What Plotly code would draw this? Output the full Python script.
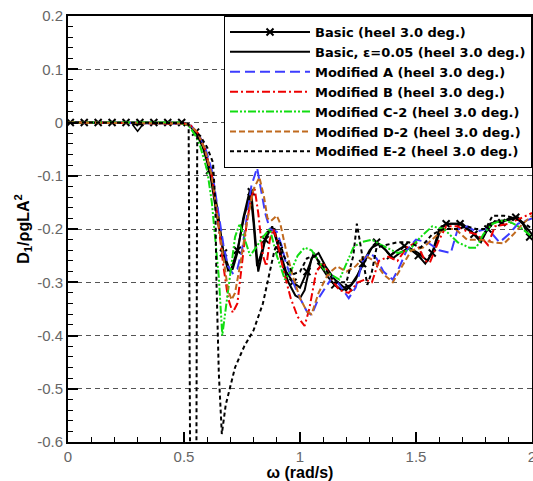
import plotly.graph_objects as go

# ---------------- data ----------------
basic_x = [0.01, 0.04, 0.07, 0.10, 0.13, 0.16, 0.19, 0.22, 0.25, 0.28, 0.31, 0.34, 0.37, 0.40, 0.43, 0.46, 0.49,
           0.52, 0.55, 0.58, 0.61, 0.64, 0.67, 0.70, 0.73, 0.76, 0.79, 0.82, 0.85, 0.88, 0.91, 0.94, 0.97,
           1.00, 1.03, 1.06, 1.09, 1.12, 1.15, 1.18, 1.21, 1.24, 1.27, 1.30, 1.33, 1.36, 1.39, 1.42, 1.45,
           1.48, 1.51, 1.54, 1.57, 1.60, 1.63, 1.66, 1.69, 1.72, 1.75, 1.78, 1.81, 1.84, 1.87, 1.90, 1.93,
           1.96, 1.99]
basic_y = [0, 0, 0, 0, 0, 0, 0, 0, 0, 0, 0, 0, 0, 0, 0, 0, 0,
           -0.005, -0.018, -0.045, -0.09, -0.17, -0.245, -0.28, -0.24, -0.175, -0.13, -0.28, -0.22, -0.195, -0.24, -0.28, -0.30,
           -0.31, -0.28, -0.245, -0.27, -0.29, -0.305, -0.315, -0.31, -0.295, -0.265, -0.24, -0.225, -0.235, -0.25, -0.24, -0.232,
           -0.24, -0.25, -0.265, -0.245, -0.20, -0.19, -0.19, -0.19, -0.20, -0.21, -0.22, -0.20, -0.185, -0.188, -0.18, -0.178,
           -0.19, -0.215]

eps_x = [0.0, 0.50, 0.53, 0.56, 0.59, 0.62, 0.645, 0.67, 0.69, 0.71, 0.73, 0.755, 0.785, 0.80, 0.815, 0.83, 0.86,
         0.89, 0.92, 0.95, 0.98, 1.00, 1.02, 1.05, 1.08, 1.11, 1.15, 1.19, 1.22, 1.25, 1.28, 1.31, 1.34, 1.37,
         1.40, 1.43, 1.47, 1.51, 1.55, 1.58, 1.61, 1.65, 1.70, 1.74, 1.78, 1.82, 1.86, 1.90, 1.94, 1.97, 2.0]
eps_y = [0.0, -0.002, -0.007, -0.022, -0.05, -0.1, -0.165, -0.245, -0.278, -0.275, -0.245, -0.18, -0.125, -0.19, -0.27, -0.25, -0.205,
         -0.2, -0.26, -0.30, -0.325, -0.33, -0.315, -0.255, -0.245, -0.27, -0.295, -0.31, -0.305, -0.285, -0.26, -0.235, -0.228, -0.24,
         -0.255, -0.245, -0.235, -0.245, -0.26, -0.235, -0.195, -0.19, -0.19, -0.205, -0.225, -0.19, -0.185, -0.183, -0.178, -0.195, -0.21]

modA_x = [0.0, 0.50, 0.53, 0.56, 0.59, 0.62, 0.645, 0.67, 0.69, 0.71, 0.73, 0.75, 0.77, 0.79, 0.815, 0.83, 0.85,
          0.87, 0.90, 0.92, 0.94, 0.97, 1.00, 1.03, 1.05, 1.08, 1.11, 1.14, 1.17, 1.21, 1.24, 1.27, 1.30, 1.33,
          1.36, 1.40, 1.43, 1.46, 1.50, 1.55, 1.60, 1.65, 1.68, 1.72, 1.76, 1.80, 1.83, 1.86, 1.90, 1.94, 2.0]
modA_y = [0.0, -0.002, -0.006, -0.02, -0.045, -0.09, -0.16, -0.23, -0.27, -0.283, -0.275, -0.24, -0.18, -0.12, -0.085, -0.12, -0.17,
          -0.2, -0.205, -0.23, -0.265, -0.30, -0.33, -0.355, -0.362, -0.33, -0.31, -0.29, -0.305, -0.33, -0.31, -0.26, -0.245, -0.255,
          -0.28, -0.295, -0.27, -0.24, -0.22, -0.225, -0.24, -0.245, -0.20, -0.195, -0.205, -0.20, -0.21, -0.225, -0.21, -0.19, -0.18]

modB_x = [0.0, 0.50, 0.53, 0.56, 0.59, 0.62, 0.645, 0.67, 0.69, 0.71, 0.73, 0.75, 0.77, 0.79, 0.805, 0.82, 0.84,
          0.855, 0.87, 0.885, 0.90, 0.93, 0.96, 0.99, 1.02, 1.04, 1.07, 1.10, 1.13, 1.17, 1.21, 1.25, 1.28, 1.31,
          1.34, 1.38, 1.42, 1.46, 1.50, 1.54, 1.56, 1.60, 1.63, 1.68, 1.72, 1.76, 1.79, 1.81, 1.84, 1.90, 1.95, 2.0]
modB_y = [0.0, -0.002, -0.006, -0.02, -0.05, -0.10, -0.18, -0.27, -0.33, -0.357, -0.34, -0.27, -0.19, -0.14, -0.125, -0.17, -0.25,
          -0.27, -0.22, -0.20, -0.22, -0.28, -0.33, -0.365, -0.382, -0.35, -0.28, -0.263, -0.29, -0.315, -0.32, -0.30, -0.295, -0.30,
          -0.26, -0.252, -0.26, -0.235, -0.225, -0.26, -0.263, -0.22, -0.195, -0.195, -0.205, -0.21, -0.22, -0.23, -0.195, -0.19, -0.18, -0.17]

modC_x = [0.0, 0.48, 0.52, 0.55, 0.57, 0.60, 0.62, 0.64, 0.65, 0.665, 0.68, 0.70, 0.72, 0.74, 0.76, 0.785, 0.81,
          0.84, 0.87, 0.90, 0.935, 0.96, 0.99, 1.02, 1.05, 1.08, 1.11, 1.15, 1.17, 1.20, 1.23, 1.26, 1.31, 1.35,
          1.42, 1.47, 1.52, 1.57, 1.62, 1.68, 1.73, 1.76, 1.79, 1.83, 1.88, 1.92, 1.96, 2.0]
modC_y = [0.0, 0.0, -0.006, -0.025, -0.045, -0.09, -0.15, -0.235, -0.29, -0.40, -0.35, -0.28, -0.215, -0.19, -0.215, -0.25, -0.235,
          -0.215, -0.20, -0.25, -0.295, -0.28, -0.25, -0.235, -0.24, -0.26, -0.28, -0.29, -0.295, -0.265, -0.235, -0.225, -0.22, -0.23,
          -0.245, -0.24, -0.215, -0.195, -0.20, -0.225, -0.235, -0.235, -0.21, -0.19, -0.183, -0.19, -0.20, -0.215]

modD_x = [0.0, 0.50, 0.53, 0.56, 0.59, 0.62, 0.645, 0.67, 0.69, 0.705, 0.72, 0.745, 0.77, 0.80, 0.825, 0.845, 0.86,
          0.875, 0.90, 0.915, 0.94, 0.97, 1.00, 1.03, 1.05, 1.08, 1.12, 1.16, 1.20, 1.24, 1.28, 1.32, 1.36, 1.40,
          1.44, 1.48, 1.53, 1.58, 1.62, 1.67, 1.72, 1.78, 1.83, 1.88, 1.92, 1.96, 2.0]
modD_y = [0.0, -0.002, -0.006, -0.02, -0.05, -0.10, -0.18, -0.26, -0.315, -0.333, -0.32, -0.26, -0.19, -0.125, -0.103, -0.14, -0.18,
          -0.185, -0.175, -0.19, -0.24, -0.29, -0.33, -0.355, -0.36, -0.32, -0.285, -0.27, -0.28, -0.27, -0.25, -0.26, -0.285, -0.30,
          -0.27, -0.24, -0.235, -0.215, -0.20, -0.20, -0.22, -0.22, -0.225, -0.227, -0.21, -0.19, -0.175]

modE_x = [0.0, 0.50, 0.52, 0.527, 0.553, 0.557, 0.57, 0.60, 0.625, 0.635, 0.64, 0.65, 0.663, 0.68, 0.72, 0.76,
          0.80, 0.84, 0.87, 0.89, 0.91, 0.93, 0.97, 1.00, 1.03, 1.06, 1.10, 1.15, 1.20, 1.23, 1.245, 1.265,
          1.29, 1.31, 1.33, 1.37, 1.42, 1.47, 1.52, 1.57, 1.62, 1.68, 1.72, 1.76, 1.80, 1.83, 1.88, 1.93, 1.97, 2.0]
modE_y = [0.0, -0.001, -0.003, -0.7, -0.7, -0.02, -0.025, -0.047, -0.075, -0.15, -0.30, -0.47, -0.585, -0.53, -0.46, -0.42,
          -0.39, -0.34, -0.28, -0.24, -0.22, -0.25, -0.285, -0.28, -0.255, -0.25, -0.27, -0.30, -0.30, -0.25, -0.19, -0.24,
          -0.305, -0.28, -0.235, -0.23, -0.225, -0.225, -0.235, -0.21, -0.20, -0.20, -0.195, -0.20, -0.20, -0.175, -0.175, -0.18, -0.19, -0.20]

odd_x = [0.30]
odd_y = [-0.008]

series_names = ["Basic (heel 3.0 deg.)", "Basic, \u03b5=0.05 (heel 3.0 deg.)", "Modified A (heel 3.0 deg.)",
                "Modified B (heel 3.0 deg.)", "Modified C-2 (heel 3.0 deg.)", "Modified D-2 (heel 3.0 deg.)",
                "Modified E-2 (heel 3.0 deg.)"]

x_tickvals = [0, 0.5, 1, 1.5, 2]
x_ticktext = ["0", "0.5", "1", "1.5", "2"]
y_tickvals = [0.2, 0.1, 0, -0.1, -0.2, -0.3, -0.4, -0.5, -0.6]
y_ticktext = ["0.2", "0.1", "0", "-0.1", "-0.2", "-0.3", "-0.4", "-0.5", "-0.6"]

# ---------------- figure ----------------
fig = go.Figure()

fig.add_trace(go.Scatter(x=basic_x, y=basic_y, mode="lines+markers", name=series_names[0],
                         line=dict(color="black", width=2),
                         marker=dict(symbol="x-thin", size=7, maxdisplayed=34, color="black",
                                     line=dict(color="black", width=2))))
fig.add_trace(go.Scatter(x=eps_x, y=eps_y, mode="lines", name=series_names[1],
                         line=dict(color="black", width=2)))
fig.add_trace(go.Scatter(x=modA_x, y=modA_y, mode="lines", name=series_names[2],
                         line=dict(color="#3c3cff", width=2, dash="10px,5px")))
fig.add_trace(go.Scatter(x=modB_x, y=modB_y, mode="lines", name=series_names[3],
                         line=dict(color="#ee0000", width=2, dash="8px,3px,2px,3px")))
fig.add_trace(go.Scatter(x=modC_x, y=modC_y, mode="lines", name=series_names[4],
                         line=dict(color="#11dd11", width=2, dash="8px,2px,2px,2px,2px,2px")))
fig.add_trace(go.Scatter(x=modD_x, y=modD_y, mode="lines", name=series_names[5],
                         line=dict(color="#c06a1e", width=2, dash="6px,3px")))
fig.add_trace(go.Scatter(x=modE_x, y=modE_y, mode="lines", name=series_names[6],
                         line=dict(color="black", width=2, dash="4px,3px")))
fig.add_trace(go.Scatter(x=odd_x, y=odd_y, mode="markers", showlegend=False,
                         marker=dict(symbol="triangle-down-open", size=9, color="black",
                                     line=dict(color="black", width=1.5))))

tick_font = dict(family="Liberation Sans, Arial, sans-serif", size=15, color="#666666")
title_font = dict(family="Liberation Sans, Arial, sans-serif", size=16, color="black")

fig.update_layout(
    width=533, height=481,
    margin=dict(l=68, r=1, t=16, b=39, autoexpand=False),
    paper_bgcolor="white", plot_bgcolor="white",
    showlegend=True,
    legend=dict(x=1, xanchor="right", y=1, yanchor="top",
                bgcolor="white", bordercolor="black", borderwidth=1,
                font=dict(family="DejaVu Sans", size=13, color="black", weight="bold"),
                itemwidth=80, tracegroupgap=0),
    xaxis=dict(range=[0, 2], tickmode="array", tickvals=x_tickvals, ticktext=x_ticktext,
               ticks="inside", ticklen=10, tickwidth=2, tickcolor="black",
               minor=dict(tickmode="linear", tick0=0, dtick=0.1, ticks="inside", ticklen=5,
                          tickwidth=1, tickcolor="black", showgrid=False),
               showline=True, linecolor="black", linewidth=2, mirror=True,
               showgrid=False, zeroline=False, tickfont=tick_font, automargin=False,
               ticklabeloverflow="allow",
               title=dict(text="<b>\u03c9 (rad/s)</b>", font=title_font, standoff=0)),
    yaxis=dict(range=[-0.6, 0.2], tickmode="array", tickvals=y_tickvals, ticktext=y_ticktext,
               ticks="inside", ticklen=10, tickwidth=2, tickcolor="black",
               minor=dict(tickmode="linear", tick0=0, dtick=0.02, ticks="inside", ticklen=5,
                          tickwidth=1, tickcolor="black", showgrid=False),
               showline=True, linecolor="black", linewidth=2, mirror=True,
               showgrid=True, gridcolor="#555555", gridwidth=1, griddash="5px,4px",
               zeroline=False, tickfont=tick_font, automargin=False,
               title=dict(text="<b>D<sub>1</sub>/\u03c1gLA<sup>2</sup></b>", font=title_font, standoff=4)),
)

fig.write_html("out.html", config={"displayModeBar": False},
               post_script="document.body.style.margin='0px';document.body.style.padding='0px';")
